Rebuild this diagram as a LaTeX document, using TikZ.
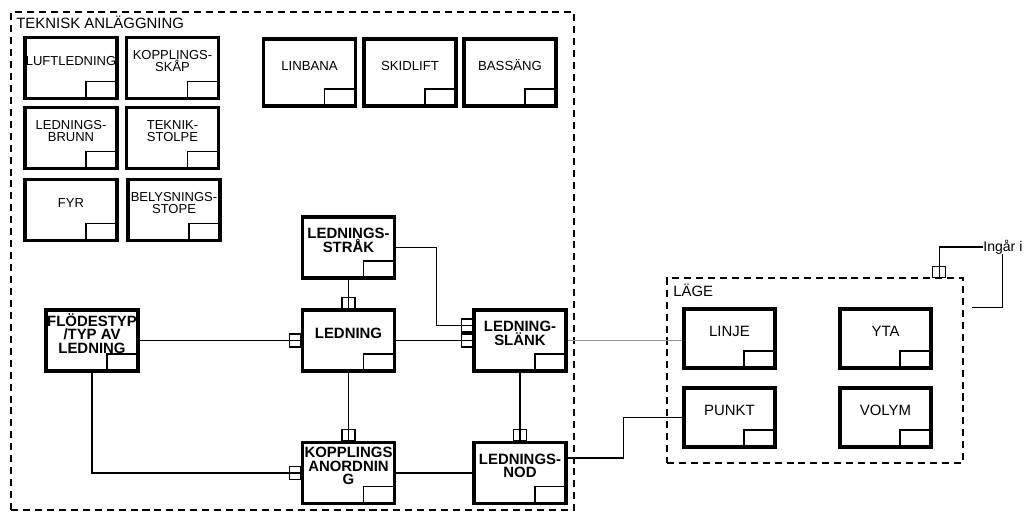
\documentclass[tikz,border=0pt]{standalone}
\usepackage{fontspec}
\setmainfont{Liberation Sans}
\usetikzlibrary{calc}
\tikzset{
  ent/.style={draw, line width=2.2pt, fill=white, inner sep=0pt, align=center,
              minimum width=1.84cm, minimum height=1.22cm, text depth=8pt,
              path picture={\draw[line width=0.6pt] (path picture bounding box.south east) rectangle ++(-0.62cm,0.34cm);}},
  small/.style={ent, font=\fontsize{7.4}{7}\selectfont},
  high/.style={ent, minimum height=1.34cm, font=\fontsize{7.5}{7}\selectfont},
  main/.style={ent, font=\fontsize{8.5}{7.7}\selectfont\bfseries},
  geo/.style={ent, minimum width=1.82cm, minimum height=1.18cm, font=\fontsize{8.5}{8}\selectfont},
  frame/.style={draw, line width=0.8pt, dash pattern=on 4pt off 2.8pt, inner sep=0pt},
  title/.style={inner sep=0pt, font=\fontsize{8.5}{9}\selectfont},
  conn/.style={line width=0.6pt},
  tab/.style={line width=0.6pt},
}
\newcommand{\vtab}[1]{\draw[tab] ($(#1)+(-6.5,0)$) rectangle ++(13,-11);}
\newcommand{\htab}[1]{\draw[tab] ($(#1)+(0,-6.5)$) rectangle ++(-11,13);}

\begin{document}
\begin{tikzpicture}[x=0.02cm, y=-0.02cm]
  \useasboundingbox (0,0) rectangle (1025,512);
  \node[frame, minimum width=11.26cm, minimum height=9.96cm] (tekn) at (292.5,261) {};
  \node[title, anchor=base west] (teknlbl) at (16,28) {TEKNISK ANLÄGGNING};
  \node[frame, minimum width=5.92cm, minimum height=3.7cm] (lage) at (815,370.5) {};
  \node[title, anchor=base west] (lagelbl) at (673,296) {LÄGE};

  \node[small] (luft)   at (71,68)    {LUFTLEDNING};
  \node[small] (kskap)  at (172.5,68) {KOPPLINGS-\\SKÅP};
  \node[small] (brunn)  at (71,138)   {LEDNINGS-\\BRUNN};
  \node[small] (stolpe) at (172.5,138) {TEKNIK-\\STOLPE};
  \node[small] (fyr)    at (71,210)   {FYR};
  \node[small] (belys)  at (174,210)  {BELYSNINGS-\\STOPE};
  \node[high] (linbana)  at (309.5,72.5) {LINBANA};
  \node[high] (skidlift) at (410,72.5)   {SKIDLIFT};
  \node[high] (bassang)  at (510,72.5)   {BASSÄNG};

  \node[main] (strak)   at (348.5,247.5) {LEDNINGS-\\STRÅK};
  \node[main] (ledning) at (348.5,340.5) {LEDNING};
  \node[main] (flode)   at (92,340.5)    {FLÖDESTYP\\/TYP AV\\LEDNING};
  \node[main] (slank)   at (520,340.5)   {LEDNING-\\SLÄNK};
  \node[main] (koppl)   at (348.5,473)   {KOPPLINGS\\ANORDNIN\\G};
  \node[main] (nod)     at (520,473)     {LEDNINGS-\\NOD};

  \node[geo] (linje) at (729.5,338.5) {LINJE};
  \node[geo] (yta)   at (885.5,338.5) {YTA};
  \node[geo] (punkt) at (729.5,417.5) {PUNKT};
  \node[geo] (volym) at (885.5,417.5) {VOLYM};

  \node[title, font=\fontsize{8}{9}\selectfont, anchor=west] (ingar) at (983,247) {Ingår i};

  \coordinate (slin) at ($(slank.west)+(0,-15)$);
  \coordinate (lagetop) at ($(lage.north west)+(273,0)$);

  \draw[conn] (strak.south) -- (ledning.north);
  \vtab{ledning.north}
  \draw[conn] (ledning.south) -- (koppl.north);
  \vtab{koppl.north}
  \draw[conn] (slank.south) -- (nod.north);
  \vtab{nod.north}
  \draw[conn] (flode.east) -- (ledning.west);
  \htab{ledning.west}
  \draw[conn] (ledning.east) -- (slank.west);
  \htab{slank.west}
  \draw[conn] (strak.east) -- ++(40,0) |- (slin);
  \htab{slin}
  \draw[conn] (flode.south) |- (koppl.west);
  \htab{koppl.west}
  \draw[conn] (koppl.east) -- (nod.west);
  \draw[conn, black!40] (slank.east) -- (slank.east -| linje.west);
  \draw[conn] ($(nod.east)+(0,-15)$) -- ++(56,0) |- (punkt.west);
  \draw[conn] (lagetop) |- (ingar.west);
  \vtab{lagetop}
  \draw[conn] (ingar.south) |- ($(lage.north east)+(8,30)$);
\end{tikzpicture}
\end{document}
